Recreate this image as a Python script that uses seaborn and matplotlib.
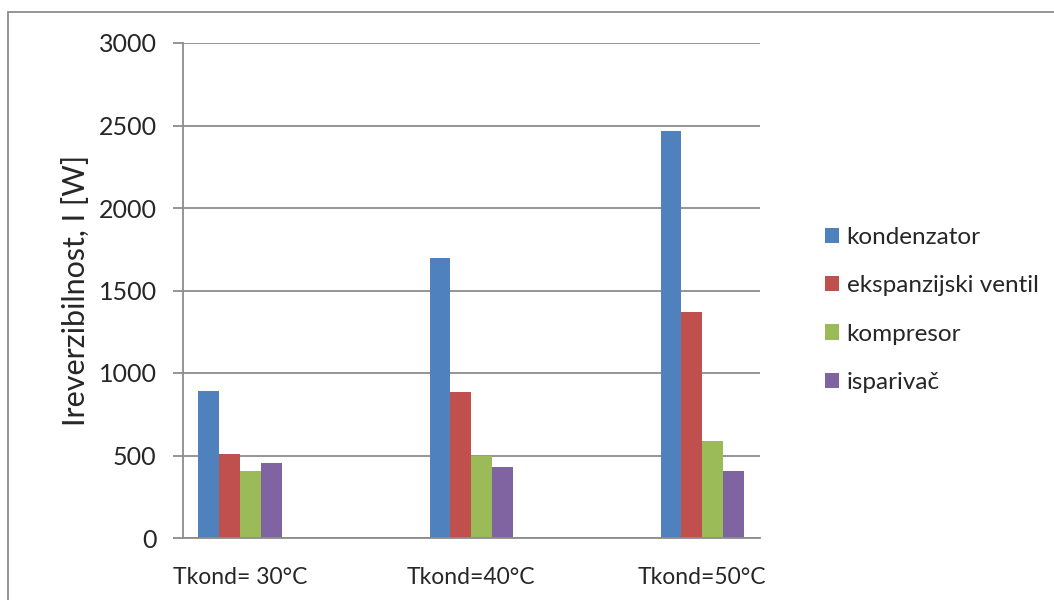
import matplotlib
matplotlib.use("Agg")
import matplotlib.pyplot as plt
import seaborn as sns
import pandas as pd
from matplotlib.lines import Line2D

categories = ["Tkond= 30°C", "Tkond=40°C", "Tkond=50°C"]
series = ["kondenzator", "ekspanzijski ventil", "kompresor", "isparivač"]
kondenzator = [888, 1697, 2468]
ekspanzijski_ventil = [509, 882, 1370]
kompresor = [406, 497, 586]
isparivac = [453, 430, 406]
colors = ["#4F81BD", "#C0504D", "#9BBB59", "#8064A2"]

rows = []
for name, vals in zip(series, [kondenzator, ekspanzijski_ventil, kompresor, isparivac]):
    for c, v in zip(categories, vals):
        rows.append({"cat": c, "series": name, "value": v})
df = pd.DataFrame(rows)

sns.set_theme(style="white")
plt.rcParams['font.family'] = ['Lato', 'DejaVu Sans']

fig = plt.figure(figsize=(10.54, 6.0), dpi=100)
ax = fig.add_axes([183/1054, 1-538/600, (760-183)/1054, (538-43)/600])

sns.barplot(data=df, x="cat", y="value", hue="series", order=categories,
            hue_order=series, palette=colors, width=0.36, saturation=1,
            edgecolor="none", linewidth=0, ax=ax, legend=True)

ax.set_xlim(-0.247, 2.25)
ax.set_ylim(0, 3000)
ax.set_yticks(range(0, 3001, 500))
ax.yaxis.grid(True, color="#8c8c8c", linewidth=1.3)
ax.set_axisbelow(True)
for s in ["top", "right"]:
    ax.spines[s].set_visible(False)
for s in ["left", "bottom"]:
    ax.spines[s].set_color("#8c8c8c")
    ax.spines[s].set_linewidth(1.3)
ax.tick_params(axis="y", which="both", left=True, length=7, width=1.3,
               color="#8c8c8c", labelsize=18, pad=12, direction="out")
ax.tick_params(axis="x", bottom=False, labelsize=16.5, pad=15)
ax.set_xlabel("")
ax.set_ylabel("Ireverzibilnost, I [W]", fontsize=22, labelpad=6)

handles, labels = ax.get_legend_handles_labels()
ax.legend(handles, labels, loc="center left", bbox_to_anchor=(815/1054, 1-310/600),
          bbox_transform=fig.transFigure, frameon=False, fontsize=17.5,
          handlelength=0.6, handleheight=0.6, handletextpad=0.3, labelspacing=1.13,
          borderaxespad=0)

fig.add_artist(Line2D([8/1054, 1], [1-12/600, 1-12/600], transform=fig.transFigure,
                      color="#8c8c8c", linewidth=1.3))
fig.add_artist(Line2D([8/1054, 8/1054], [0, 1-12/600], transform=fig.transFigure,
                      color="#8c8c8c", linewidth=1.3))

fig.savefig("out.png", dpi=100, facecolor="white")
